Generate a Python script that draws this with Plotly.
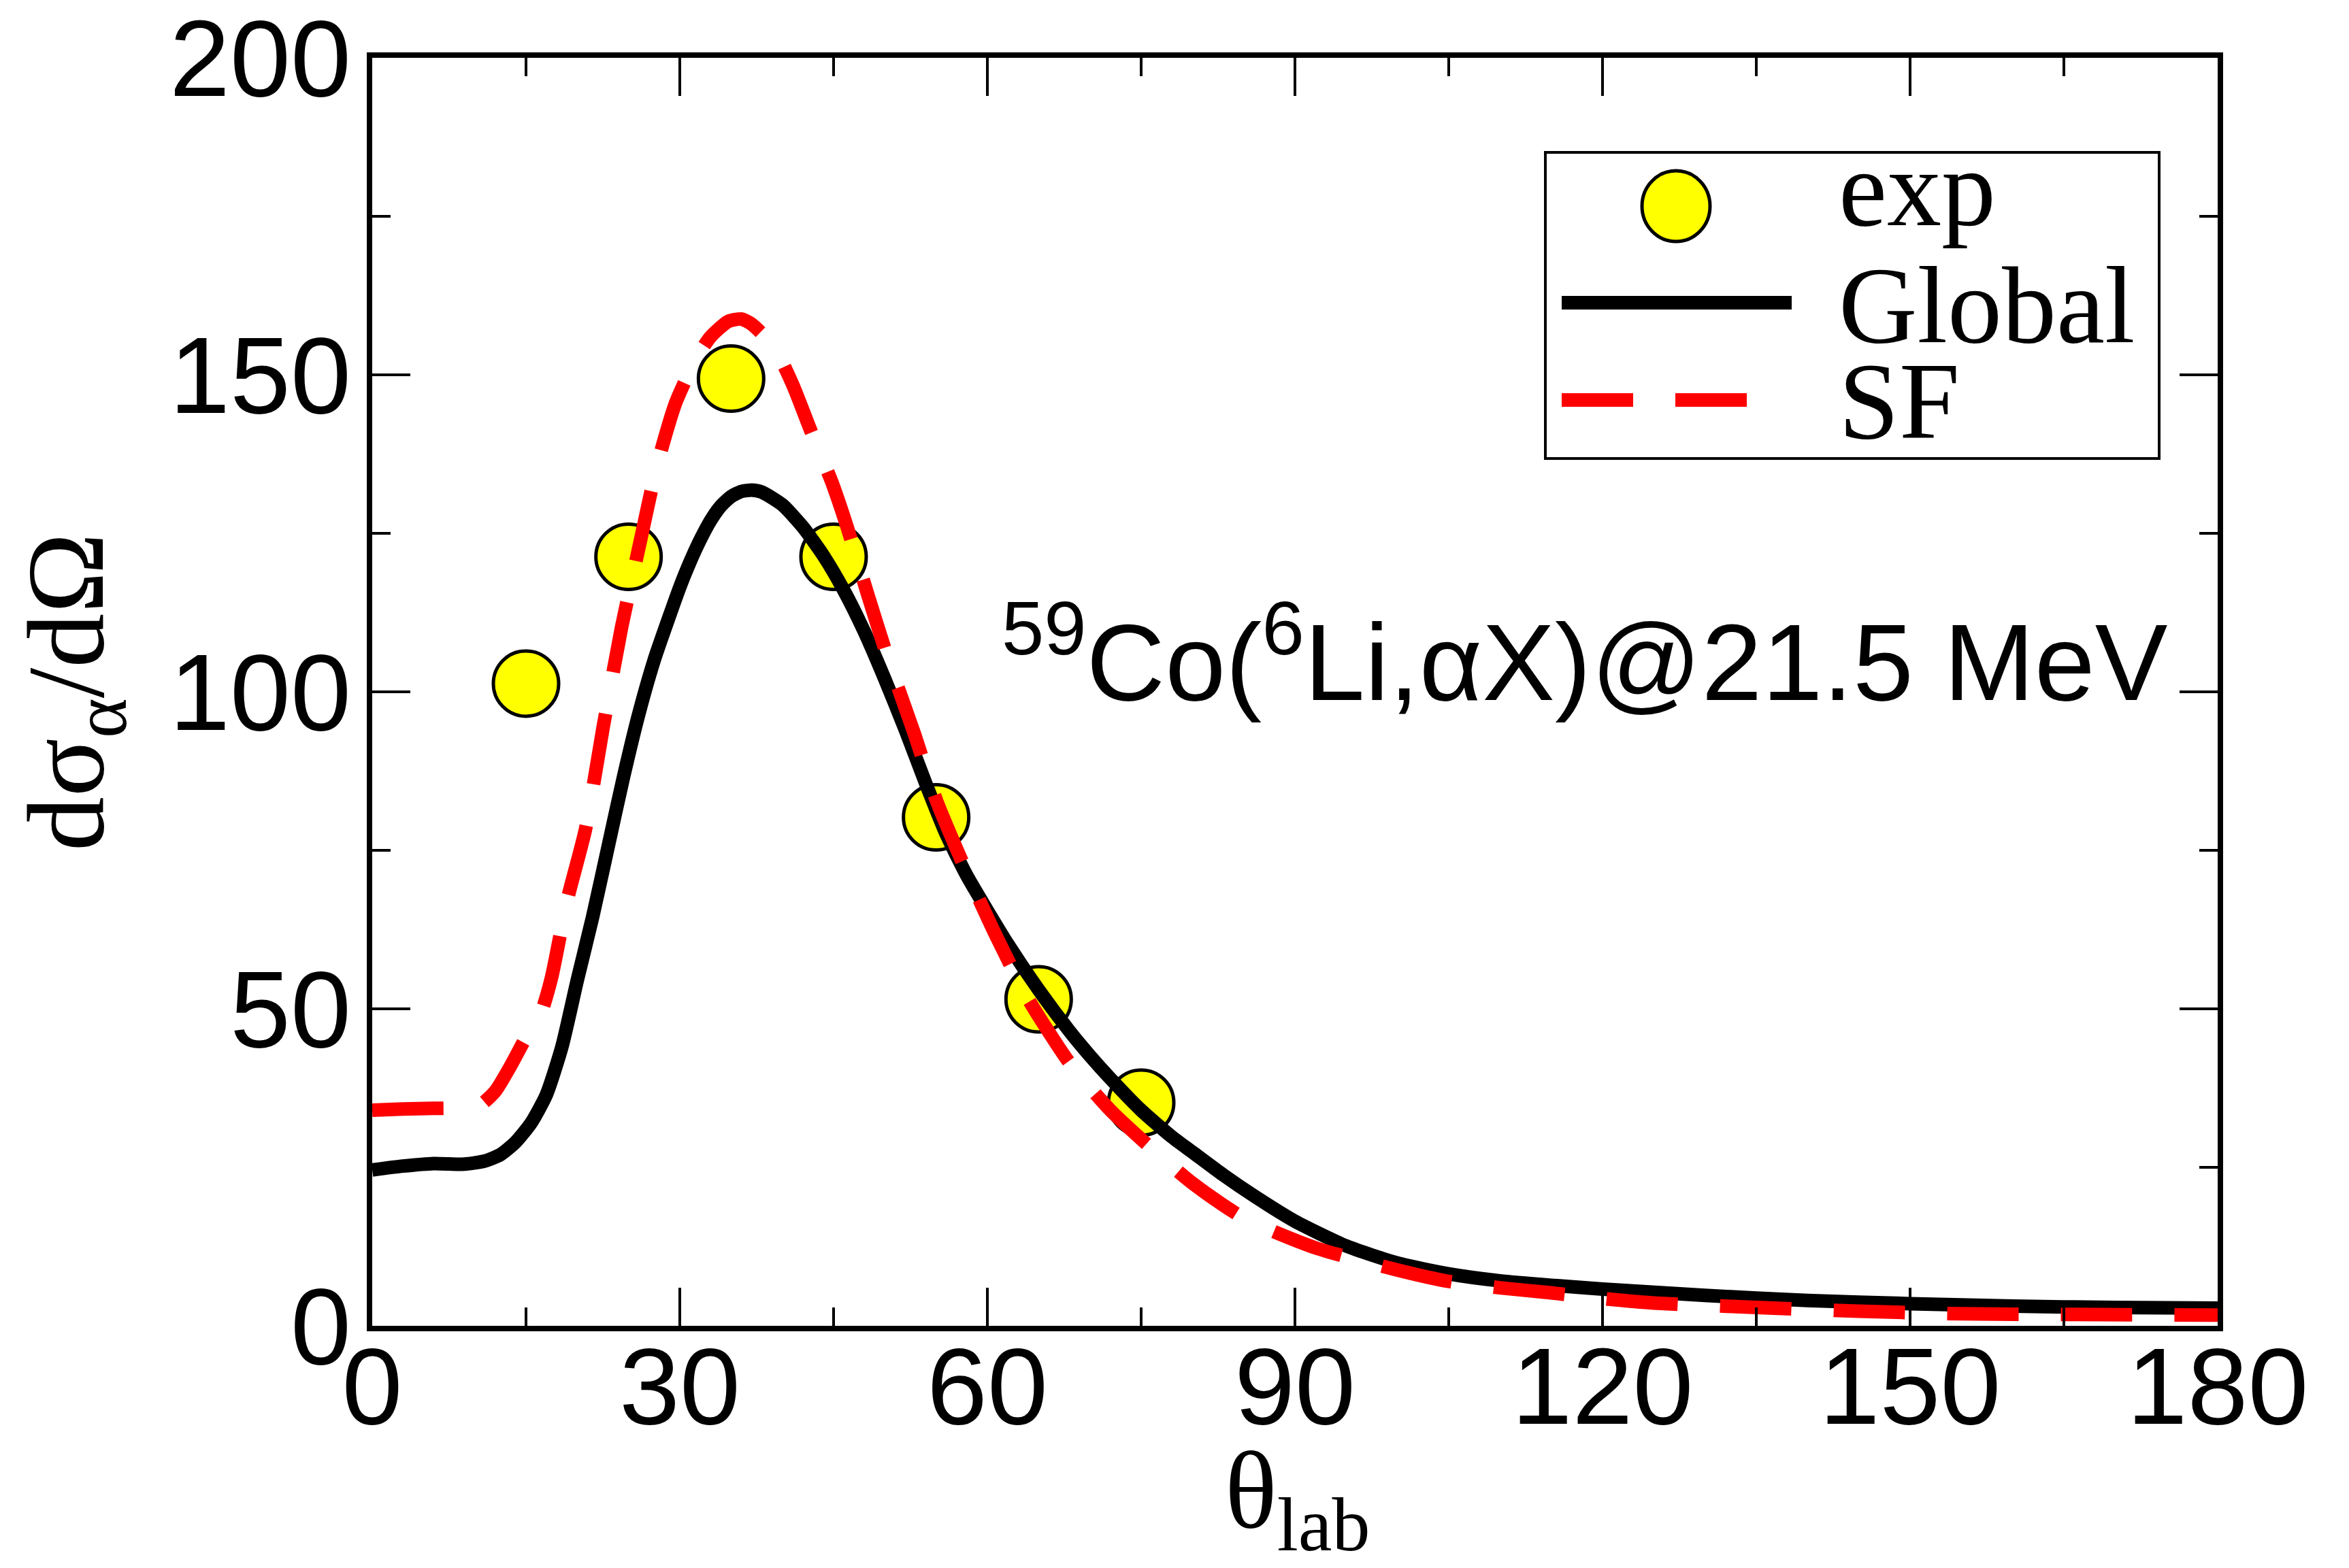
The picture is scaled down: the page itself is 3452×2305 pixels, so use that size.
import plotly.graph_objects as go

# ---------------- data ----------------
theta_exp = [15, 25, 35, 45, 55, 65, 75]
sigma_exp = [101.3, 121.3, 149.4, 121.3, 80.2, 51.5, 35.2]

theta_global = [0, 3, 6, 9, 11, 12.5, 14, 15.5, 17, 18.5, 20, 21.5, 23, 24.5, 26, 27.5,
                29, 30, 31, 32, 33, 34, 35, 36, 37, 38, 40, 42, 44, 46, 48, 50, 52, 54,
                56, 58, 60, 62, 65, 68, 70, 72, 75, 78, 80, 83, 86, 90, 95, 100, 105,
                110, 115, 120, 130, 140, 150, 160, 170, 180]
sigma_global = [24.6, 25.2, 25.6, 25.5, 26.0, 27.0, 29.0, 32.0, 36.5, 44.0, 54.5, 64.5,
                75.5, 86.5, 96.5, 105.0, 112.0, 116.5, 120.5, 124.0, 127.0, 129.3, 130.8,
                131.6, 131.8, 131.5, 129.5, 126.0, 121.5, 116.0, 109.5, 102.0, 94.0, 85.5,
                77.5, 71.0, 65.5, 60.2, 53.0, 46.5, 42.6, 39.0, 34.0, 29.8, 27.4, 23.8,
                20.5, 16.5, 12.6, 9.9, 8.2, 7.1, 6.4, 5.8, 4.8, 4.0, 3.5, 3.1, 2.9, 2.8]

theta_sf = [0, 3, 6, 9, 10.5, 12, 13.5, 15, 16.5, 17.5, 19, 20.8, 22.5, 24.3, 26.1, 27.8,
            29.6, 31.6, 33, 34.7, 36, 37, 39.2, 41, 42.8, 44.8, 46.3, 48.3, 50.4, 52.9,
            55, 58, 61, 64, 68, 72, 76, 80, 85, 92, 100, 105, 110, 115, 120, 125, 135,
            145, 155, 165, 180]
sigma_sf = [34.0, 34.2, 34.3, 34.4, 34.8, 37.0, 41.0, 45.5, 49.5, 55.0, 67.0, 78.3, 94.2,
            110.0, 123.4, 135.8, 145.6, 152.6, 156.0, 158.4, 158.8, 158.0, 154.4, 148.5,
            141.1, 133.2, 126.1, 115.5, 104.8, 93.3, 83.0, 71.5, 61.0, 51.5, 41.5, 34.0,
            28.0, 22.5, 17.0, 12.3, 8.8, 7.0, 6.0, 5.2, 4.3, 3.6, 2.9, 2.3, 1.9, 1.8, 1.7]

legend_names = ["exp", "Global", "SF"]
x_ticks = [0, 30, 60, 90, 120, 150, 180]
y_ticks = [0, 50, 100, 150, 200]
x_title = "θ<sub>lab</sub>"
y_title = "dσ<sub>α</sub>/dΩ"
reaction = "<sup>59</sup>Co(<sup>6</sup>Li,αX)@21.5 MeV"

# ---------------- style ----------------
SANS = "Liberation Sans, Arial, Helvetica, sans-serif"
SERIF = "Liberation Serif, Times New Roman, serif"
DASH = "105px,62px"

fig = go.Figure()
fig.add_trace(go.Scatter(
    x=theta_exp, y=sigma_exp, mode="markers", name=legend_names[0],
    marker=dict(symbol="circle", size=96, color="#ffff00",
                line=dict(color="black", width=5)),
    cliponaxis=False))
fig.add_trace(go.Scatter(
    x=theta_global, y=sigma_global, mode="lines", name=legend_names[1],
    line=dict(color="black", width=20, shape="spline", smoothing=0.6)))
fig.add_trace(go.Scatter(
    x=theta_sf, y=sigma_sf, mode="lines", name=legend_names[2],
    line=dict(color="#ff0000", width=20, dash=DASH, shape="spline", smoothing=0.6)))

axis_common = dict(
    showline=True, linecolor="black", linewidth=8, mirror="ticks",
    ticks="inside", ticklen=56, tickwidth=4, tickcolor="black",
    showgrid=False, zeroline=False, ticklabeloverflow="allow", automargin=False,
    tickfont=dict(family=SANS, size=160, color="black"),
)
fig.update_xaxes(
    range=[0, 180], tickmode="array", tickvals=x_ticks,
    minor=dict(ticks="inside", ticklen=27, tickwidth=4, tickcolor="black", dtick=15, tick0=0),
    ticklabelstandoff=-56,
    **axis_common)
fig.update_yaxes(
    range=[0, 200], tickmode="array", tickvals=y_ticks,
    minor=dict(ticks="inside", ticklen=27, tickwidth=4, tickcolor="black", dtick=25, tick0=0),
    title=dict(text=y_title, font=dict(family=SERIF, size=160, color="black"),
               standoff=48),
    ticklabelstandoff=-9,
    **axis_common)

# ---------------- custom legend / labels (paper coords) ----------------
L0, R0, T0, B0 = 539.0, 3251.0, 77.0, 1941.0
W, H = R0 - L0, B0 - T0
def px(X):
    return (X - L0) / W
def py(Y):
    return (B0 - Y) / H

shapes = [
    dict(type="rect", xref="paper", yref="paper",
         x0=px(2263), x1=px(3165), y0=py(666), y1=py(216),
         line=dict(color="black", width=4), fillcolor="white", layer="below"),
    dict(type="circle", xref="paper", yref="paper",
         x0=px(2455 - 50), x1=px(2455 + 50), y0=py(295 + 52), y1=py(295 - 52),
         line=dict(color="black", width=5), fillcolor="#ffff00"),
    dict(type="line", xref="paper", yref="paper",
         x0=px(2287), x1=px(2625), y0=py(437), y1=py(437),
         line=dict(color="black", width=20)),
    dict(type="line", xref="paper", yref="paper",
         x0=px(2287), x1=px(2559), y0=py(580), y1=py(580),
         line=dict(color="#ff0000", width=20, dash=DASH)),
]
annotations = []
for name, ymid in zip(legend_names, [269, 441, 582]):
    annotations.append(dict(
        xref="paper", yref="paper", x=px(2692), y=py(ymid),
        xanchor="left", yanchor="middle", showarrow=False,
        text=name, font=dict(family=SERIF, size=160, color="black")))

annotations.append(dict(
    xref="paper", yref="paper", x=px(1462), y=py(1057),
    xanchor="left", yanchor="bottom", showarrow=False,
    text=reaction, font=dict(family=SANS, size=160, color="black")))

annotations.append(dict(
    xref="paper", yref="paper", x=px(1898), y=py(2092),
    xanchor="center", yanchor="top", showarrow=False,
    text=x_title, font=dict(family=SERIF, size=160, color="black")))

fig.update_layout(
    width=3452, height=2305, autosize=False,
    margin=dict(l=539, r=201, t=77, b=364, pad=0, autoexpand=False),
    plot_bgcolor="white", paper_bgcolor="white",
    showlegend=False, shapes=shapes, annotations=annotations,
)

fig.write_html("out.html")
